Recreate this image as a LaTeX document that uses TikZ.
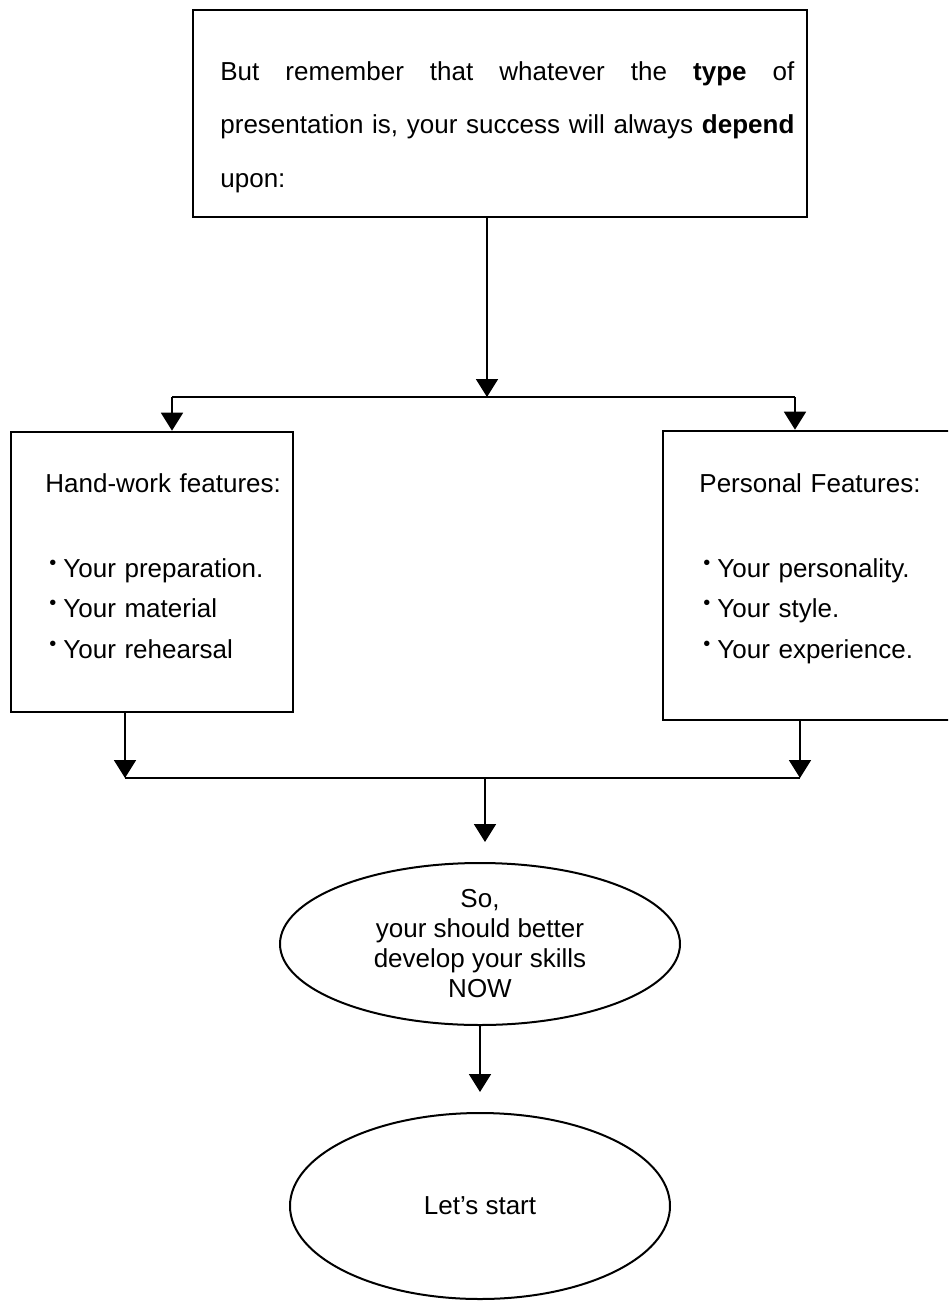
\documentclass[tikz,border=0pt]{standalone}
\usepackage{fontspec}
\setmainfont{Liberation Sans}
\usetikzlibrary{arrows.meta, shapes.geometric}
\newcommand{\bul}{\hspace{2pt}\makebox[7pt][l]{\raisebox{4pt}{\fontsize{10}{10}\selectfont\textbullet}}}

\begin{document}
\begin{tikzpicture}[x=0.5pt,y=-0.5pt,font=\fontsize{13}{20.25}\selectfont,>={Triangle[width=11pt,length=9pt]},
  frame/.style={draw,line width=1.3pt,inner sep=0},txt/.style={anchor=base west,inner sep=0,align=left},
  oval/.style={draw,ellipse,line width=1pt,inner sep=0,align=center},link/.style={line width=0.9pt}]
\useasboundingbox (0,0) rectangle (948,1301); \clip (0,0) rectangle (948,1301);
\node[frame,minimum width=307pt,minimum height=103.5pt] (top) at (500,113.5){};
\node[txt,text width=288pt,font=\fontsize{13}{26.75}\selectfont] (toptxt) at (220,80){\makebox[287pt][l]{But\hfill remember\hfill that\hfill whatever\hfill the\hfill \textbf{type}\hfill of}\\ \makebox[287pt][l]{presentation\hfill is,\hfill your\hfill success\hfill will\hfill always\hfill \textbf{depend}}\\ upon:};
\node[frame,minimum width=141pt,minimum height=140pt] (hw) at (152,572){};
\node[txt,text width=130pt] (hwtxt) at (45,492){Hand-work features:\\[22.25pt]\bul Your preparation.\\ \bul Your material\\ \bul Your rehearsal};
\node[frame,minimum width=148.5pt,minimum height=144.5pt] (pf) at (811.5,575.5){};
\node[txt,text width=130pt] (pftxt) at (699,492){Personal Features:\\[22.25pt]\bul Your personality.\\ \bul Your style.\\ \bul Your experience.};
\node[oval,minimum width=200pt,minimum height=81pt,font=\fontsize{13}{15}\selectfont] (so) at (480,944){So,\\your should better\\develop your skills\\NOW};
\node[oval,minimum width=190pt,minimum height=93pt] (go) at (480,1206){Let's start};
% fork below the top box
\coordinate (fork) at (487,397); \coordinate (forkL) at (172,397); \coordinate (forkR) at (795,397);
\draw[link,->] (top.south -| fork) -- (fork); \draw[link] (forkL) -- (forkR);
\draw[link,->] (forkL) -- (hw.north -| forkL); \draw[link,->] (forkR) -- (pf.north -| forkR);
% join above the ovals
\coordinate (joinL) at (125,778); \coordinate (joinR) at (800,778); \coordinate (join) at (485,778);
\draw[link,->] (hw.south -| joinL) -- (joinL); \draw[link,->] (pf.south -| joinR) -- (joinR); \draw[link] (joinL) -- (joinR);
\draw[link,->,shorten >=10pt] (join) -- (join |- so.north); \draw[link,->,shorten >=10pt] (so) -- (go);
\end{tikzpicture}
\end{document}
